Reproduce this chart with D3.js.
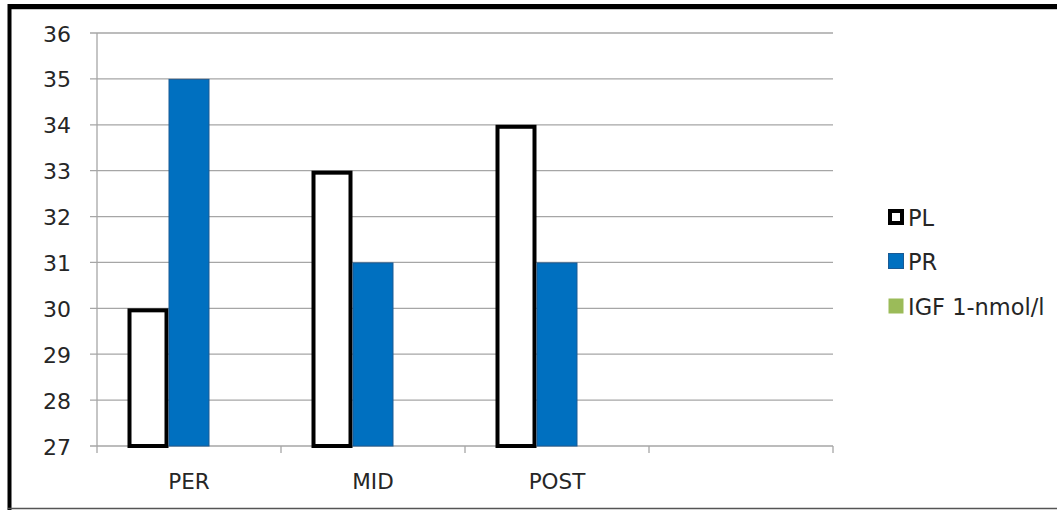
<!DOCTYPE html>
<html>
<head>
<meta charset="utf-8">
<script src="https://cdn.jsdelivr.net/npm/d3@7/dist/d3.min.js"></script>
<style>
  html, body { margin: 0; padding: 0; background: #fff; }
  svg { display: block; }
  text { font-family: "DejaVu Sans", sans-serif; fill: #262626; }
</style>
</head>
<body>
<svg id="chart" width="1057" height="510"></svg>
<script>
// ---- data ----
const categories = ["PER", "MID", "POST", ""];
const seriesNames = ["PL", "PR", "IGF 1-nmol/l"];
const plValues = [30, 33, 34, null];
const prValues = [35, 31, 31, null];
const igfValues = [null, null, null, null];
const yTicks = [27, 28, 29, 30, 31, 32, 33, 34, 35, 36];

const seriesValues = [plValues, prValues, igfValues];
const seriesStyle = [
  { fill: "#ffffff", stroke: "#000000", sw: 4 },
  { fill: "#0070C0", stroke: "#1a5a94", sw: 1 },
  { fill: "#9BBB59", stroke: "none", sw: 0 }
];

const svg = d3.select("#chart");

// outer frame
svg.append("rect").attr("x", 0).attr("y", 0).attr("width", 1057).attr("height", 510).attr("fill", "#fff");
svg.append("line").attr("x1", 8).attr("x2", 1057).attr("y1", 9.5).attr("y2", 9.5).attr("stroke", "#c8c8c8").attr("stroke-width", 1);
svg.append("rect").attr("x", 8).attr("y", 4).attr("width", 1049).attr("height", 5).attr("fill", "#000");
svg.append("rect").attr("x", 7.5).attr("y", 4).attr("width", 4).attr("height", 506).attr("fill", "#000");
svg.append("line").attr("x1", 8).attr("x2", 1057).attr("y1", 508.5).attr("y2", 508.5).attr("stroke", "#555").attr("stroke-width", 1.5);

// scales
const x0 = d3.scaleBand().domain(categories.map((c, i) => i)).range([97, 833]).paddingInner(0).paddingOuter(0);
const x1 = d3.scaleBand().domain(seriesNames).range([0, x0.bandwidth()]).paddingInner(0).paddingOuter(0.744);
const y = d3.scaleLinear().domain([27, 36]).range([446, 33]);

// gridlines
svg.append("g").selectAll("line").data(yTicks).join("line")
  .attr("x1", 90).attr("x2", 833)
  .attr("y1", d => y(d)).attr("y2", d => y(d))
  .attr("stroke", "#a6a6a6").attr("stroke-width", 1.3);

// y axis line
svg.append("line").attr("x1", 97).attr("x2", 97).attr("y1", y(36)).attr("y2", y(27))
  .attr("stroke", "#a6a6a6").attr("stroke-width", 1.3);

// y tick labels
svg.append("g").selectAll("text").data(yTicks).join("text")
  .attr("x", 71).attr("y", d => y(d) + 1)
  .attr("text-anchor", "end").attr("dominant-baseline", "central")
  .style("font-size", "22px")
  .text(d => d);

// x axis ticks
const xBoundaries = categories.map((c, i) => x0(i)).concat([x0(categories.length - 1) + x0.bandwidth()]);
svg.append("g").selectAll("line").data(xBoundaries).join("line")
  .attr("x1", d => d).attr("x2", d => d)
  .attr("y1", y(27)).attr("y2", y(27) + 7)
  .attr("stroke", "#a6a6a6").attr("stroke-width", 1.3);

// x labels
svg.append("g").selectAll("text").data(categories).join("text")
  .attr("x", (d, i) => x0(i) + x0.bandwidth() / 2)
  .attr("y", 489)
  .attr("text-anchor", "middle")
  .style("font-size", "21.5px")
  .text(d => d);

// bars
seriesNames.forEach((s, si) => {
  const st = seriesStyle[si];
  const data = seriesValues[si].map((v, i) => ({ v, i })).filter(d => d.v != null);
  svg.append("g").selectAll("rect").data(data).join("rect")
    .attr("x", d => x0(d.i) + x1(s) + st.sw / 2)
    .attr("y", d => y(d.v) + st.sw / 2)
    .attr("width", x1.bandwidth() - st.sw)
    .attr("height", d => y(27) - y(d.v) - st.sw / 2)
    .attr("fill", st.fill)
    .attr("stroke", st.stroke)
    .attr("stroke-width", st.sw);
});

// legend
const legendY = [217, 261, 306];
const lg = svg.append("g");
seriesNames.forEach((s, si) => {
  const st = seriesStyle[si];
  const inset = si === 0 ? 2 : 0.5;
  lg.append("rect")
    .attr("x", 888 + inset).attr("y", legendY[si] - 8 + inset)
    .attr("width", 16 - 2 * inset).attr("height", 16 - 2 * inset)
    .attr("fill", st.fill)
    .attr("stroke", st.stroke === "none" ? "none" : st.stroke)
    .attr("stroke-width", si === 0 ? 4 : 1);
  lg.append("text")
    .attr("x", 908).attr("y", legendY[si] + 1)
    .attr("dominant-baseline", "central")
    .style("font-size", "22.5px")
    .text(s);
});
</script>
</body>
</html>
